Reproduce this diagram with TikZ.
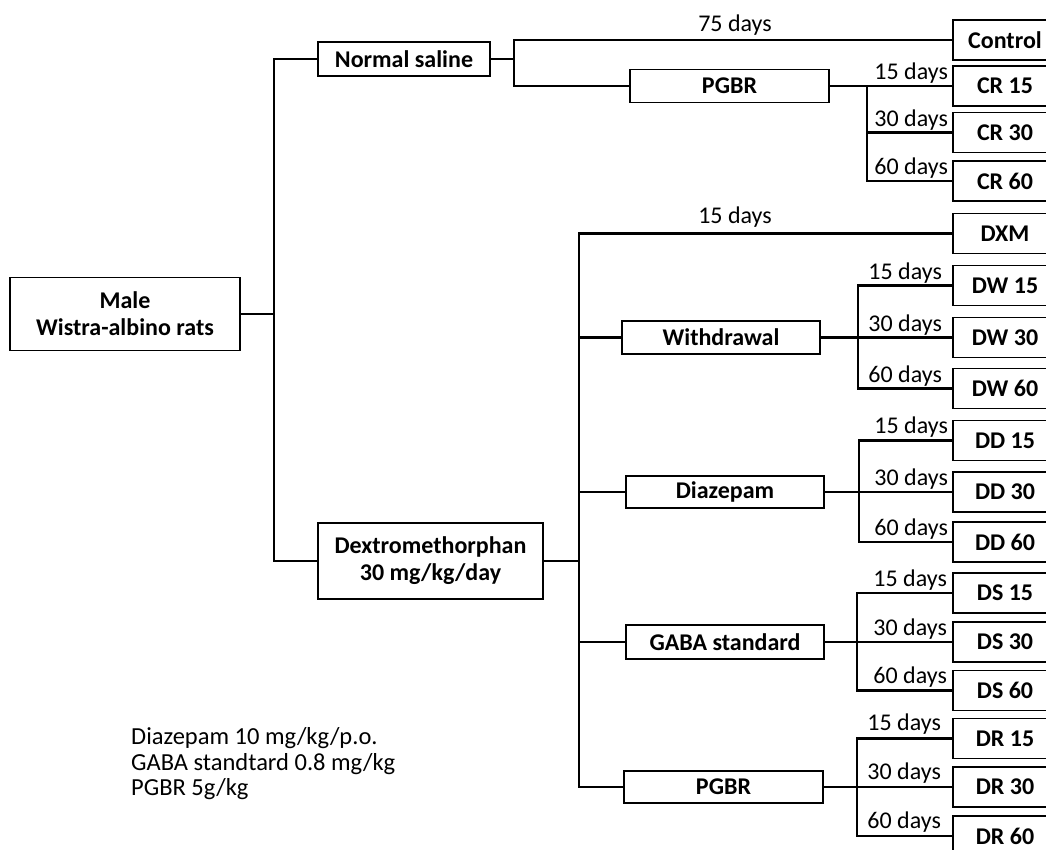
\documentclass[tikz,border=0pt]{standalone}
\usepackage{fontspec}
\setmainfont{Carlito}
\begin{document}
\begin{tikzpicture}[x=1pt,y=-1pt,
  conn/.style={line width=2.6pt},
  box/.style={draw, line width=1.5pt, inner sep=0pt, align=center, font=\bfseries\fontsize{24}{27}\selectfont},
  rbox/.style={draw, line width=1.9pt, minimum width=104pt, minimum height=40pt, inner sep=0pt, font=\bfseries\fontsize{24}{27}\selectfont},
  days/.style={inner sep=0pt, font=\fontsize{24}{27}\selectfont},
  dl/.style={days, anchor=base east},
  note/.style={inner sep=0pt, anchor=base west, font=\fontsize{24.5}{27}\selectfont}]
\useasboundingbox (0,0) rectangle (1046,850);
\fill[white] (0,0) rectangle (1046,850);
\clip (0,0) rectangle (1046,850);
% left boxes
\node[box, minimum width=230pt, minimum height=73pt] (male) at (125,314) {Male\\Wistra-albino rats};
\node[box, minimum width=172pt, minimum height=34pt] (ns) at (404,59) {Normal saline};
\node[box, minimum width=225pt, minimum height=76pt] (dex) at (430.5,561) {Dextromethorphan\\30 mg/kg/day};
\node[box, minimum width=199pt, minimum height=33pt] (pgbr1) at (729.5,86) {PGBR};
\node[box, minimum width=198pt, minimum height=33pt] (wd) at (721,337.5) {Withdrawal};
\node[box, minimum width=198pt, minimum height=32pt] (dz) at (725,492) {Diazepam};
\node[box, minimum width=198pt, minimum height=34pt] (gaba) at (725,642) {GABA standard};
\node[box, minimum width=199pt, minimum height=32pt] (pgbr2) at (723.5,787) {PGBR};
% right boxes
\node[rbox] (control) at (1005,40) {Control};
\node[rbox] (cr15) at (1005,86) {CR 15};
\node[rbox] (cr30) at (1005,132.5) {CR 30};
\node[rbox] (cr60) at (1005,181) {CR 60};
\node[rbox] (dxm) at (1005,233.5) {DXM};
\node[rbox] (dw15) at (1005,285.5) {DW 15};
\node[rbox] (dw30) at (1005,337.5) {DW 30};
\node[rbox] (dw60) at (1005,388.5) {DW 60};
\node[rbox] (dd15) at (1005,440.5) {DD 15};
\node[rbox] (dd30) at (1005,492) {DD 30};
\node[rbox] (dd60) at (1005,542) {DD 60};
\node[rbox] (ds15) at (1005,593) {DS 15};
\node[rbox] (ds30) at (1005,642) {DS 30};
\node[rbox] (ds60) at (1005,690.5) {DS 60};
\node[rbox] (dr15) at (1005,738.5) {DR 15};
\node[rbox] (dr30) at (1005,787) {DR 30};
\node[rbox] (dr60) at (1005,836) {DR 60};
% junctions
\coordinate (j1) at (274,314);
\coordinate (j2) at (514,59);
\coordinate (j4) at (579,561);
\coordinate (b1) at (867,0);
\coordinate (b2) at (858,0);
\coordinate (b3) at (859,0);
\coordinate (b4) at (857,0);
\coordinate (b5) at (857,0);
% connectors
\draw[conn] (male.east) -- (j1);
\draw[conn] (ns.west) -| (j1) |- (dex.west);
\draw[conn] (ns.east) -- (j2);
\draw[conn] (control.west) -| (j2) |- (pgbr1.west);
\draw[conn] (pgbr1.east) -- (cr15.west);
\draw[conn] (cr15.west -| b1) |- (cr60.west);
\draw[conn] (cr30.west -| b1) -- (cr30.west);
\draw[conn] (dex.east) -- (j4);
\draw[conn] (dxm.west) -| (j4) |- (pgbr2.west);
\draw[conn] (wd.west -| j4) -- (wd.west);
\draw[conn] (dz.west -| j4) -- (dz.west);
\draw[conn] (gaba.west -| j4) -- (gaba.west);
\draw[conn] (wd.east) -- (dw30.west);
\draw[conn] (dw15.west) -- (dw15.west -| b2) |- (dw60.west);
\draw[conn] (dz.east) -- (dd30.west);
\draw[conn] (dd15.west) -- (dd15.west -| b3) |- (dd60.west);
\draw[conn] (gaba.east) -- (ds30.west);
\draw[conn] (ds15.west) -- (ds15.west -| b4) |- (ds60.west);
\draw[conn] (pgbr2.east) -- (dr30.west);
\draw[conn] (dr15.west) -- (dr15.west -| b5) |- (dr60.west);
% labels
\node[days, anchor=base] (l75) at (735,32) {75 days};
\node[days, anchor=base] (ldxm) at (735,224) {15 days};
\node[dl] (lcr15) at ([xshift=-4pt,yshift=6pt]cr15.west) {15 days};
\node[dl] (lcr30) at ([xshift=-4pt,yshift=6pt]cr30.west) {30 days};
\node[dl] (lcr60) at ([xshift=-4pt,yshift=6pt]cr60.west) {60 days};
\node[dl] (ldw15) at ([xshift=-10pt,yshift=6pt]dw15.west) {15 days};
\node[dl] (ldw30) at ([xshift=-10pt,yshift=6pt]dw30.west) {30 days};
\node[dl] (ldw60) at ([xshift=-10pt,yshift=6pt]dw60.west) {60 days};
\node[dl] (ldd15) at ([xshift=-4pt,yshift=7pt]dd15.west) {15 days};
\node[dl] (ldd30) at ([xshift=-4pt,yshift=7pt]dd30.west) {30 days};
\node[dl] (ldd60) at ([xshift=-4pt,yshift=7pt]dd60.west) {60 days};
\node[dl] (lds15) at ([xshift=-5pt,yshift=7pt]ds15.west) {15 days};
\node[dl] (lds30) at ([xshift=-5pt,yshift=7pt]ds30.west) {30 days};
\node[dl] (lds60) at ([xshift=-5pt,yshift=7pt]ds60.west) {60 days};
\node[dl] (ldr15) at ([xshift=-11pt,yshift=8pt]dr15.west) {15 days};
\node[dl] (ldr30) at ([xshift=-11pt,yshift=8pt]dr30.west) {30 days};
\node[dl] (ldr60) at ([xshift=-11pt,yshift=8pt]dr60.west) {60 days};
% notes
\node[note] (n1) at (131,744) {Diazepam 10 mg/kg/p.o.};
\node[note] (n2) at (131,770) {GABA standtard 0.8 mg/kg};
\node[note] (n3) at (131,795) {PGBR 5g/kg};
\end{tikzpicture}
\end{document}
